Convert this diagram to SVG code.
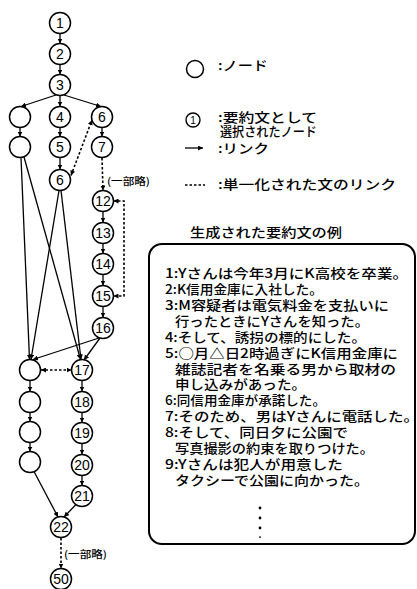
<svg xmlns="http://www.w3.org/2000/svg" width="417" height="589" viewBox="0 0 417 589">
<style>
.nd circle{fill:#fff;stroke:#000;stroke-width:1.5}
.nd text{font-family:"Liberation Sans",Arial,sans-serif;font-size:14px;text-anchor:middle;fill:#000}
.ln{stroke:#000;stroke-width:1.3;fill:none}
.dt{stroke:#000;stroke-width:1.6;fill:none;stroke-dasharray:2.5 2}
.jp{font-family:"Noto Sans CJK JP","Noto Sans CJK SC",sans-serif;font-size:13px;fill:#000;font-weight:500}
.sm{font-family:"Noto Sans CJK JP","Noto Sans CJK SC",sans-serif;font-size:10px;fill:#000;font-weight:500}
</style>
<defs>
<marker id="ar" viewBox="0 0 6 6" refX="6" refY="3" markerWidth="5" markerHeight="5" markerUnits="userSpaceOnUse" orient="auto"><path d="M0,0 L6,3 L0,6 z" fill="#000"/></marker>
<marker id="ars" viewBox="0 0 6 6" refX="6" refY="3" markerWidth="5" markerHeight="5" markerUnits="userSpaceOnUse" orient="auto-start-reverse"><path d="M0,0 L6,3 L0,6 z" fill="#000"/></marker>
</defs>
<rect width="417" height="589" fill="#fff"/>

<g id="connectors">
<line class="ln" x1="60" y1="33.5" x2="60" y2="43.5" marker-end="url(#ar)"/>
<line class="ln" x1="60" y1="64.5" x2="60" y2="74.5" marker-end="url(#ar)"/>
<line class="ln" x1="56" y1="95" x2="21" y2="106.5" marker-end="url(#ar)"/>
<line class="ln" x1="60" y1="95.5" x2="60" y2="106.5" marker-end="url(#ar)"/>
<line class="ln" x1="64" y1="95" x2="101" y2="106.5" marker-end="url(#ar)"/>
<line class="ln" x1="20" y1="127.5" x2="20" y2="136.5" marker-end="url(#ar)"/>
<line class="ln" x1="60" y1="127.5" x2="60" y2="136.5" marker-end="url(#ar)"/>
<line class="ln" x1="60" y1="157.5" x2="60" y2="169.5" marker-end="url(#ar)"/>
<line class="ln" x1="102" y1="127.5" x2="102" y2="136.5" marker-end="url(#ar)"/>
<line class="dt" x1="102" y1="158" x2="103" y2="190.5" marker-start="url(#ar)" marker-end="url(#ar)"/>
<line class="dt" x1="71" y1="175.5" x2="92" y2="120" marker-start="url(#ars)" marker-end="url(#ars)"/>
<line class="ln" x1="103" y1="211.5" x2="103" y2="222.5" marker-end="url(#ar)"/>
<line class="ln" x1="103" y1="243.5" x2="103" y2="253.5" marker-end="url(#ar)"/>
<line class="ln" x1="103" y1="274.5" x2="103" y2="285.5" marker-end="url(#ar)"/>
<line class="ln" x1="103" y1="306.5" x2="103" y2="317.5" marker-end="url(#ar)"/>
<polyline class="dt" points="113.5,201 124,201 124,296 113.5,296" marker-start="url(#ars)" marker-end="url(#ars)"/>
<line class="ln" x1="21" y1="157.5" x2="29.5" y2="359.5" marker-end="url(#ar)"/>
<line class="ln" x1="24" y1="157" x2="80.5" y2="359.5" marker-end="url(#ar)"/>
<line class="ln" x1="59" y1="190.5" x2="31" y2="359.5" marker-end="url(#ar)"/>
<line class="ln" x1="61" y1="190.5" x2="81" y2="359.5" marker-end="url(#ar)"/>
<line class="ln" x1="99" y1="338" x2="33" y2="359.5" marker-end="url(#ar)"/>
<line class="ln" x1="100" y1="338" x2="84" y2="360" marker-end="url(#ar)"/>
<line class="dt" x1="41" y1="370" x2="71.5" y2="370" marker-start="url(#ars)" marker-end="url(#ars)"/>
<line class="ln" x1="30" y1="380.5" x2="30" y2="391.5" marker-end="url(#ar)"/>
<line class="ln" x1="30" y1="412.5" x2="30" y2="421.5" marker-end="url(#ar)"/>
<line class="ln" x1="30" y1="442.5" x2="30" y2="451.5" marker-end="url(#ar)"/>
<line class="ln" x1="82" y1="380.5" x2="82" y2="391.5" marker-end="url(#ar)"/>
<line class="ln" x1="82" y1="412.5" x2="82" y2="422.5" marker-end="url(#ar)"/>
<line class="ln" x1="82" y1="443.5" x2="82" y2="454.5" marker-end="url(#ar)"/>
<line class="ln" x1="82" y1="475.5" x2="82" y2="485.5" marker-end="url(#ar)"/>
<line class="ln" x1="34" y1="471.5" x2="58" y2="517" marker-end="url(#ar)"/>
<line class="ln" x1="76" y1="504.5" x2="64" y2="517" marker-end="url(#ar)"/>
<line class="dt" x1="61" y1="538" x2="61" y2="568.5" marker-start="url(#ar)" marker-end="url(#ar)"/>
</g>

<text class="sm" x="107" y="185" textLength="43" lengthAdjust="spacingAndGlyphs">(一部略)</text>
<text class="sm" x="64" y="558" textLength="43" lengthAdjust="spacingAndGlyphs">(一部略)</text>

<g id="n1" class="nd"><circle cx="60" cy="23" r="10.5"/><text x="60" y="28">1</text></g>
<g id="n2" class="nd"><circle cx="60" cy="54" r="10.5"/><text x="60" y="59">2</text></g>
<g id="n3" class="nd"><circle cx="60" cy="85" r="10.5"/><text x="60" y="90">3</text></g>
<g id="a1" class="nd"><circle cx="20" cy="117" r="10.5"/></g>
<g id="n4" class="nd"><circle cx="60" cy="117" r="10.5"/><text x="60" y="122">4</text></g>
<g id="n6b" class="nd"><circle cx="102" cy="117" r="10.5"/><text x="102" y="122">6</text></g>
<g id="a2" class="nd"><circle cx="20" cy="147" r="10.5"/></g>
<g id="n5" class="nd"><circle cx="60" cy="147" r="10.5"/><text x="60" y="152">5</text></g>
<g id="n7" class="nd"><circle cx="102" cy="147" r="10.5"/><text x="102" y="152">7</text></g>
<g id="n6" class="nd"><circle cx="60" cy="180" r="10.5"/><text x="60" y="185">6</text></g>
<g id="n12" class="nd"><circle cx="103" cy="201" r="10.5"/><text x="103" y="206">12</text></g>
<g id="n13" class="nd"><circle cx="103" cy="233" r="10.5"/><text x="103" y="238">13</text></g>
<g id="n14" class="nd"><circle cx="103" cy="264" r="10.5"/><text x="103" y="269">14</text></g>
<g id="n15" class="nd"><circle cx="103" cy="296" r="10.5"/><text x="103" y="301">15</text></g>
<g id="n16" class="nd"><circle cx="103" cy="328" r="10.5"/><text x="103" y="333">16</text></g>
<g id="a3" class="nd"><circle cx="30" cy="370" r="10.5"/></g>
<g id="n17" class="nd"><circle cx="82" cy="370" r="10.5"/><text x="82" y="375">17</text></g>
<g id="a4" class="nd"><circle cx="30" cy="402" r="10.5"/></g>
<g id="a5" class="nd"><circle cx="30" cy="432" r="10.5"/></g>
<g id="a6" class="nd"><circle cx="30" cy="462" r="10.5"/></g>
<g id="n18" class="nd"><circle cx="82" cy="402" r="10.5"/><text x="82" y="407">18</text></g>
<g id="n19" class="nd"><circle cx="82" cy="433" r="10.5"/><text x="82" y="438">19</text></g>
<g id="n20" class="nd"><circle cx="82" cy="465" r="10.5"/><text x="82" y="470">20</text></g>
<g id="n21" class="nd"><circle cx="82" cy="496" r="10.5"/><text x="82" y="501">21</text></g>
<g id="n22" class="nd"><circle cx="61" cy="527" r="10.5"/><text x="61" y="532">22</text></g>
<g id="n50" class="nd"><circle cx="61" cy="579" r="10.5"/><text x="61" y="584">50</text></g>

<g id="legend">
<circle cx="195" cy="69" r="8.5" fill="none" stroke="#000" stroke-width="1.5"/>
<text class="jp" x="218" y="70" textLength="50" lengthAdjust="spacingAndGlyphs">:ノード</text>
<circle cx="193" cy="120" r="7" fill="none" stroke="#000" stroke-width="1.4"/>
<text x="193" y="124" font-family="Liberation Sans,Arial,sans-serif" font-size="10" text-anchor="middle">1</text>
<text class="jp" x="218" y="121.5" textLength="99" lengthAdjust="spacingAndGlyphs">:要約文として</text>
<text class="jp" x="220" y="135.5" textLength="97" lengthAdjust="spacingAndGlyphs">選択されたノード</text>
<line class="ln" x1="185" y1="148" x2="203" y2="148" marker-end="url(#ar)"/>
<text class="jp" x="218" y="153" textLength="51" lengthAdjust="spacingAndGlyphs">:リンク</text>
<line class="dt" x1="185" y1="185" x2="205" y2="185"/>
<text class="jp" x="218" y="189" textLength="178" lengthAdjust="spacingAndGlyphs">:単一化された文のリンク</text>
<text class="jp" x="190" y="237" textLength="152" lengthAdjust="spacingAndGlyphs">生成された要約文の例</text>
</g>

<g id="summary">
<rect x="149" y="244" width="266" height="300" rx="13" fill="none" stroke="#000" stroke-width="2"/>
<text class="jp" x="165" y="278" textLength="243" lengthAdjust="spacingAndGlyphs">1:Yさんは今年3月にK高校を卒業。</text>
<text class="jp" x="165" y="294" textLength="158" lengthAdjust="spacingAndGlyphs">2:K信用金庫に入社した。</text>
<text class="jp" x="165" y="310" textLength="224" lengthAdjust="spacingAndGlyphs">3:M容疑者は電気料金を支払いに</text>
<text class="jp" x="175" y="326" textLength="194" lengthAdjust="spacingAndGlyphs">行ったときにYさんを知った。</text>
<text class="jp" x="165" y="342" textLength="201" lengthAdjust="spacingAndGlyphs">4:そして、誘拐の標的にした。</text>
<text class="jp" x="165" y="357.5" textLength="233" lengthAdjust="spacingAndGlyphs">5:○月△日2時過ぎにK信用金庫に</text>
<text class="jp" x="175" y="373.5" textLength="221" lengthAdjust="spacingAndGlyphs">雑誌記者を名乗る男から取材の</text>
<text class="jp" x="175" y="389" textLength="131" lengthAdjust="spacingAndGlyphs">申し込みがあった。</text>
<text class="jp" x="165" y="405" textLength="161" lengthAdjust="spacingAndGlyphs">6:同信用金庫が承諾した。</text>
<text class="jp" x="165" y="421" textLength="254" lengthAdjust="spacingAndGlyphs">7:そのため、男はYさんに電話した。</text>
<text class="jp" x="165" y="437" textLength="183" lengthAdjust="spacingAndGlyphs">8:そして、同日夕に公園で</text>
<text class="jp" x="175" y="453" textLength="199" lengthAdjust="spacingAndGlyphs">写真撮影の約束を取りつけた。</text>
<text class="jp" x="165" y="469" textLength="178" lengthAdjust="spacingAndGlyphs">9:Yさんは犯人が用意した</text>
<text class="jp" x="175" y="485" textLength="194" lengthAdjust="spacingAndGlyphs">タクシーで公園に向かった。</text>
<circle cx="260" cy="508" r="1.4"/>
<circle cx="260" cy="518" r="1.4"/>
<circle cx="260" cy="528" r="1.4"/>
<rect x="259" y="536.5" width="2" height="1.2"/>
</g>
</svg>
